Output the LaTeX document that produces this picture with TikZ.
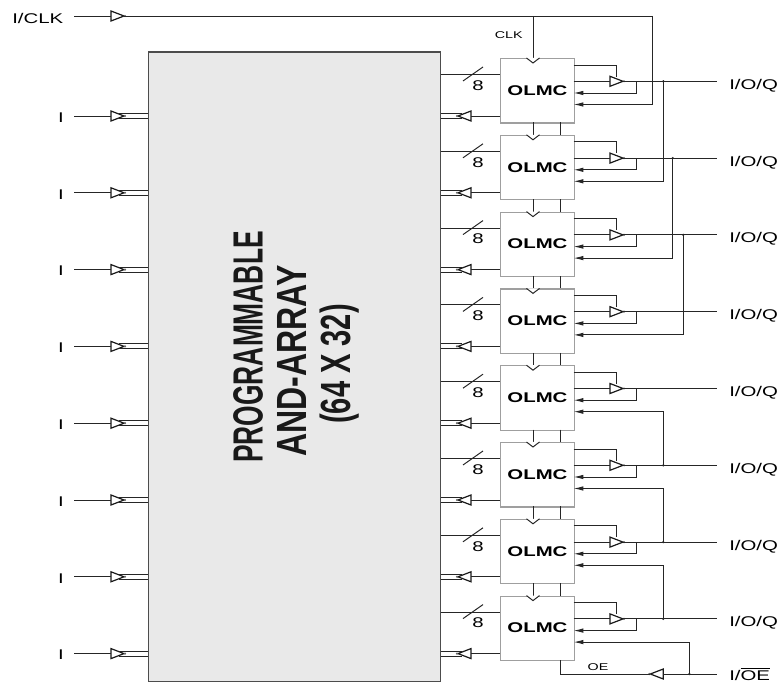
\documentclass[tikz,border=0pt]{standalone}
\usepackage{graphicx}
\usepackage{fontspec}
\setmainfont{Liberation Sans}
\usetikzlibrary{arrows.meta,calc}
\definecolor{plagray}{RGB}{233,233,233}
\newcommand{\wide}[1]{\scalebox{1.45}[1]{#1}}

\begin{document}
\begin{tikzpicture}[x=0.025cm,y=-0.025cm,font=\fontsize{10}{10}\selectfont,
  wire/.style={draw=black!85,line width=0.7pt},
  feed/.style={wire,-{Latex[length=7pt,width=3.2pt]}},
  pla/.style={draw=black!70,line width=0.9pt,fill=plagray,minimum width=7.31cm,minimum height=15.74cm,anchor=north west,inner sep=0pt},
  olmc/.style={draw=gray!75,line width=0.9pt,fill=white,minimum width=1.84cm,minimum height=1.61cm,anchor=north west,inner sep=0pt,font=\fontsize{10}{10}\selectfont\bfseries},
  lbl/.style={inner sep=0pt,anchor=west},
  tiny/.style={inner sep=0pt,font=\fontsize{7}{7}\selectfont},
  pinlbl/.style={inner sep=0pt},
  platext/.style={rotate=90,anchor=base,inner sep=0pt,text=black!90,font=\fontsize{30}{30}\selectfont\bfseries},
  jdot/.style={fill=black!85,inner sep=0pt,minimum size=1.8pt,circle},
  buf/.pic={
    \draw[draw=black!90,line width=0.85pt,fill=white] (0,-5) -- (13,0) -- (0,5) -- cycle;
    \fill[black!60] (14,0) circle (1.2);
    \coordinate (-in) at (0,0);
    \coordinate (-out) at (13,0);
  }]

\useasboundingbox (0,0) rectangle (779,682);

\node[pla] (array) at (147.5,51.5) {};
\node[platext] (plaA) at (262.7,347) {\scalebox{0.625}[1]{PROGRAMMABLE}};
\node[platext] (plaB) at (306.5,361) {\scalebox{0.76}[1]{AND-ARRAY}};
\node[platext] (plaC) at (350,364) {\scalebox{0.69}[1]{(64 X 32)}};

\foreach \i in {1,...,8} {
  \pgfmathsetmacro\t{58+76.8*(\i-1)}
  \begin{scope}[shift={(500,\t)}]
    \node[olmc] (m\i) at (0,0) {\raisebox{0.7pt}{\scalebox{1.45}[1]{OLMC}}};
    \coordinate (ck\i) at (33,0);
    \coordinate (rt\i) at (60,0);
    \coordinate (bl\i) at (33,64.5);
    \coordinate (br\i) at (60,64.5);
    \coordinate (pin\i) at (0,16.5);
    \coordinate (ret\i) at (0,58);
    \coordinate (retA\i) at (-38,55.5);
    \coordinate (retB\i) at (-38,60.5);
    \coordinate (up\i) at (73.5,7);
    \coordinate (en\i) at (116.7,18.6);
    \coordinate (d\i) at (73.5,23.3);
    \coordinate (tap\i) at (136.7,23.3);
    \coordinate (fb\i) at (73.5,35);
    \coordinate (in\i) at (73.5,46.5);
    \coordinate (o\i) at (216.7,23.3);

    \draw[wire] (array.east |- pin\i) -- (pin\i);
    \draw[wire] (-37,23) -- (-17,9);
    \node[pinlbl] (w\i) at (-22,27.5) {\wide{8}};

    \pic (r\i) [rotate=180] at (-29,58) {buf};
    \draw[wire] (ret\i) -- (r\i-in);
    \draw[wire] (retA\i) -- (array.east |- retA\i);
    \draw[wire] (retB\i) -- (array.east |- retB\i);

    \pic (b\i) at (110,23.3) {buf};
    \draw[wire] (d\i) -- (b\i-in);
    \draw[wire] (up\i) -| (en\i);
    \draw[wire] (b\i-out) -- (o\i);
    \draw[feed] (tap\i) |- (fb\i);
    \node[lbl] (io\i) at (229,27.5) {\wide{I/O/Q}};
  \end{scope}

  \coordinate (s\i) at (74,\t+58);
  \node[pinlbl] (lab\i) at (61,\t+59.5) {\wide{I}};
  \pic (g\i) at (111,\t+58) {buf};
  \draw[wire] (s\i) -- (g\i-in);
  \draw[wire] (119,\t+55.5) -- (array.west |- 0,\t+55.5);
  \draw[wire] (119,\t+60.5) -- (array.west |- 0,\t+60.5);
}

\foreach \i [evaluate=\i as \j using int(\i+1)] in {1,...,7} {
  \draw[wire] (bl\i) -- (ck\j);
  \draw[wire] (br\i) -- (rt\j);
}

\node[lbl] (iclk) at (12,18) {\wide{I/CLK}};
\coordinate (clkS) at (74,16);
\pic (gclk) at (111,16) {buf};
\coordinate (clkT) at (533,16);
\coordinate (clkE) at (652.7,16);
\draw[wire] (clkS) -- (gclk-in);
\draw[wire] (gclk-out) -- (clkE);
\draw[wire] (clkT) -- (ck1);
\node[tiny] (clkl) at (508.7,35) {\wide{CLK}};
\draw[feed] (clkE) |- (in1);

\foreach \i in {1,...,8} {
  \draw[wire,fill=white] ($(ck\i)+(-6.5,0)$) -- ($(ck\i)+(0,5)$) -- ($(ck\i)+(6.5,0)$);
}

\coordinate (j1) at (663.3,0);
\coordinate (j2) at (672.7,0);
\coordinate (j3) at (683.3,0);
\draw[feed] (j1 |- o1) |- (in2);
\draw[feed] (j2 |- o2) |- (in3);
\draw[feed] (j3 |- o3) |- (in4);
\draw[feed] (j1 |- o6) |- (in5);
\draw[feed] (j1 |- o7) |- (in6);
\draw[feed] (j1 |- o8) |- (in7);
\foreach \n/\o in {j1/o1,j2/o2,j3/o3,j1/o6,j1/o7,j1/o8} {
  \node[jdot] (dot\n\o) at (\n |- \o) {};
}

\node[lbl] (ioe) at (729,674) {\wide{I/$\overline{\mbox{OE}}$}};
\coordinate (oeS) at (716.7,674);
\pic (goe) [rotate=180] at (663.3,674) {buf};
\coordinate (oeJ) at (689.3,674);
\draw[wire] (oeS) -- (goe-in);
\draw[wire] (goe-out) -| (br8);
\draw[feed] (oeJ) |- (in8);
\node[jdot] (dotoe) at (oeJ) {};
\node[tiny] (oel) at (598,667) {\wide{OE}};
\end{tikzpicture}
\end{document}
